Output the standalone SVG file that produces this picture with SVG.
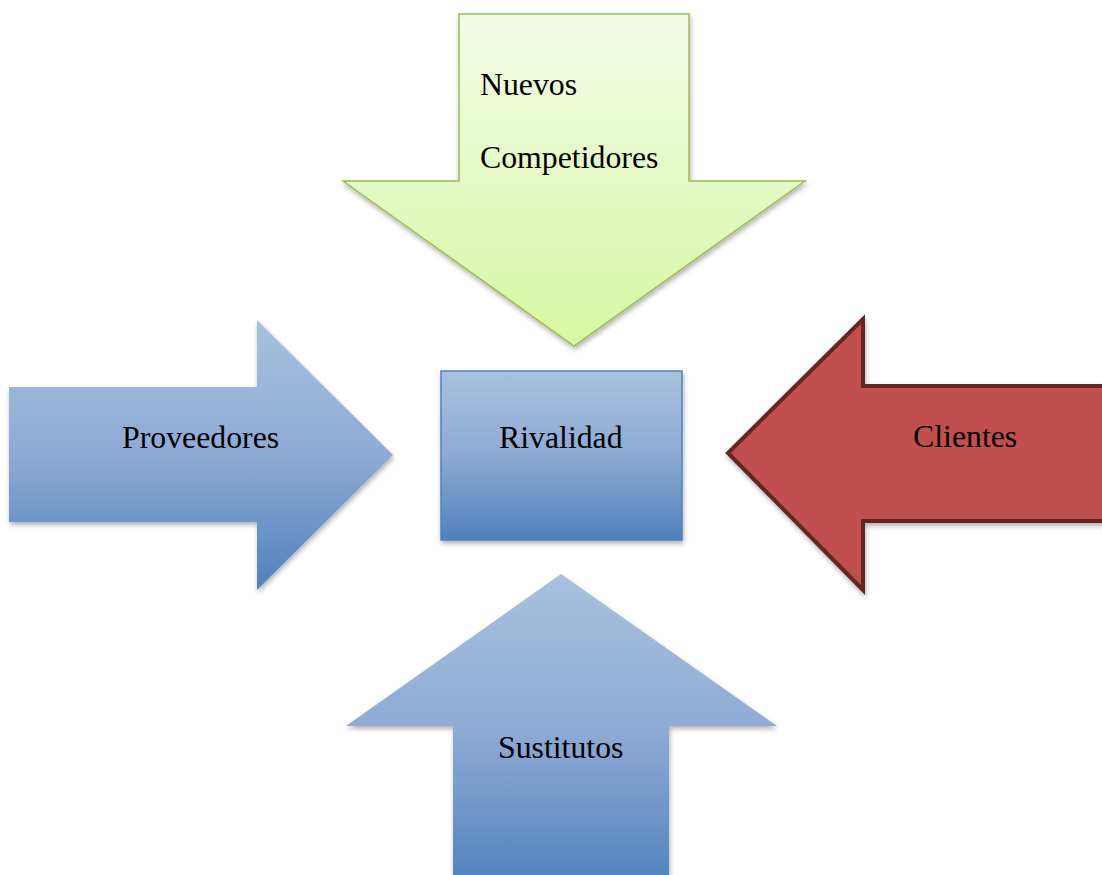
<svg xmlns="http://www.w3.org/2000/svg" width="1102" height="875" viewBox="0 0 1102 875">
<style>
.lbl{font-family:"Liberation Serif","Times New Roman",serif;font-size:31.8px;fill:#000}
</style>
<defs>
<linearGradient id="gBlue" x1="0" y1="0" x2="0" y2="1">
<stop offset="0" stop-color="#a9c1df"/>
<stop offset="0.5" stop-color="#8eaad4"/>
<stop offset="1" stop-color="#4f81bd"/>
</linearGradient>
<linearGradient id="gGreen" x1="0" y1="0" x2="0" y2="1">
<stop offset="0" stop-color="#f3fbe8"/>
<stop offset="1" stop-color="#d6f8a2"/>
</linearGradient>
<filter id="sh" x="-10%" y="-10%" width="130%" height="130%">
<feDropShadow dx="1" dy="3" stdDeviation="2.5" flood-color="#000" flood-opacity="0.3"/>
</filter>
</defs>
<g id="connectors"></g>
<g id="nuevos">
<path d="M459,14 H689 V181 H805 L574,346 L343,181 H459 Z" fill="url(#gGreen)" stroke="#9bbb59" stroke-width="1.5" filter="url(#sh)"/>
<text class="lbl" x="480" y="95">Nuevos</text>
<text class="lbl" x="480" y="168">Competidores</text>
</g>
<g id="proveedores">
<path d="M9,387 H257 V320 L393,455 L257,590 V522 H9 Z" fill="url(#gBlue)" filter="url(#sh)"/>
<text class="lbl" x="122" y="448">Proveedores</text>
</g>
<g id="rivalidad">
<rect x="441" y="371" width="241" height="169" fill="url(#gBlue)" stroke="#4f81bd" stroke-width="1.5" filter="url(#sh)"/>
<text class="lbl" x="499" y="448">Rivalidad</text>
</g>
<g id="clientes">
<path d="M1110,386 H863 V319 L728,453 L863,590 V521 H1110 Z" fill="#c0504d" stroke="#632523" stroke-width="4" filter="url(#sh)"/>
<text class="lbl" x="913" y="447">Clientes</text>
</g>
<g id="sustitutos">
<path d="M453,890 V726 H346 L561,574 L777,726 H669 V890 Z" fill="url(#gBlue)" filter="url(#sh)"/>
<text class="lbl" x="498" y="758">Sustitutos</text>
</g>
</svg>
